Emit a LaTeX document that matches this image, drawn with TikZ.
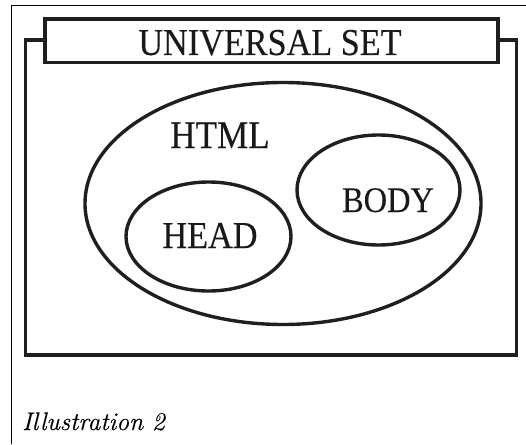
\documentclass[tikz,border=0pt]{standalone}
\usepackage{fontspec}
\setmainfont{Liberation Serif}
\newfontfamily\setfont[FakeStretch=0.9,FakeBold=0.2]{Liberation Serif}
\newfontfamily\capfont[FakeBold=0.3]{Latin Modern Roman}
\begin{document}
\begin{tikzpicture}[x=1pt,y=-1pt,
  heavy/.style={line width=3.6pt,draw=black!88},
  setlabel/.style={font=\setfont\fontsize{38}{38}\selectfont,anchor=base,inner sep=0pt,text=black!90},
  caption/.style={font=\capfont\itshape\fontsize{25.5}{25.5}\selectfont,anchor=base west,inner sep=0pt}]
  \useasboundingbox (0,0) rectangle (526,444);
  % page frame
  \draw[line width=1.3pt] (11.5,444) -- (11.5,5.5) -- (526,5.5);
  % universal set box with its title bar
  \draw[heavy] (25.5,40) rectangle (516.5,355);
  \draw[heavy,fill=white] (45,19) rectangle (498,62.5);
  \node[setlabel] (universal) at (270,55) {UNIVERSAL SET};
  % sets
  \draw[heavy,line width=3.4pt] (283,203.5) ellipse [x radius=198, y radius=121];
  \draw[heavy,line width=3.4pt] (378.5,190) ellipse [x radius=81.5, y radius=55];
  \draw[heavy,line width=3.4pt] (208.5,236.5) ellipse [x radius=82.5, y radius=54.5];
  \node[setlabel,font=\setfont\fontsize{39}{39}\selectfont] (html) at (220,148) {HTML};
  \node[setlabel,font=\setfont\fontsize{36}{36}\selectfont] (body) at (388,212) {BODY};
  \node[setlabel] (head) at (210,248) {HEAD};
  \node[caption] (illus) at (22,430) {Illustration 2};
\end{tikzpicture}
\end{document}
